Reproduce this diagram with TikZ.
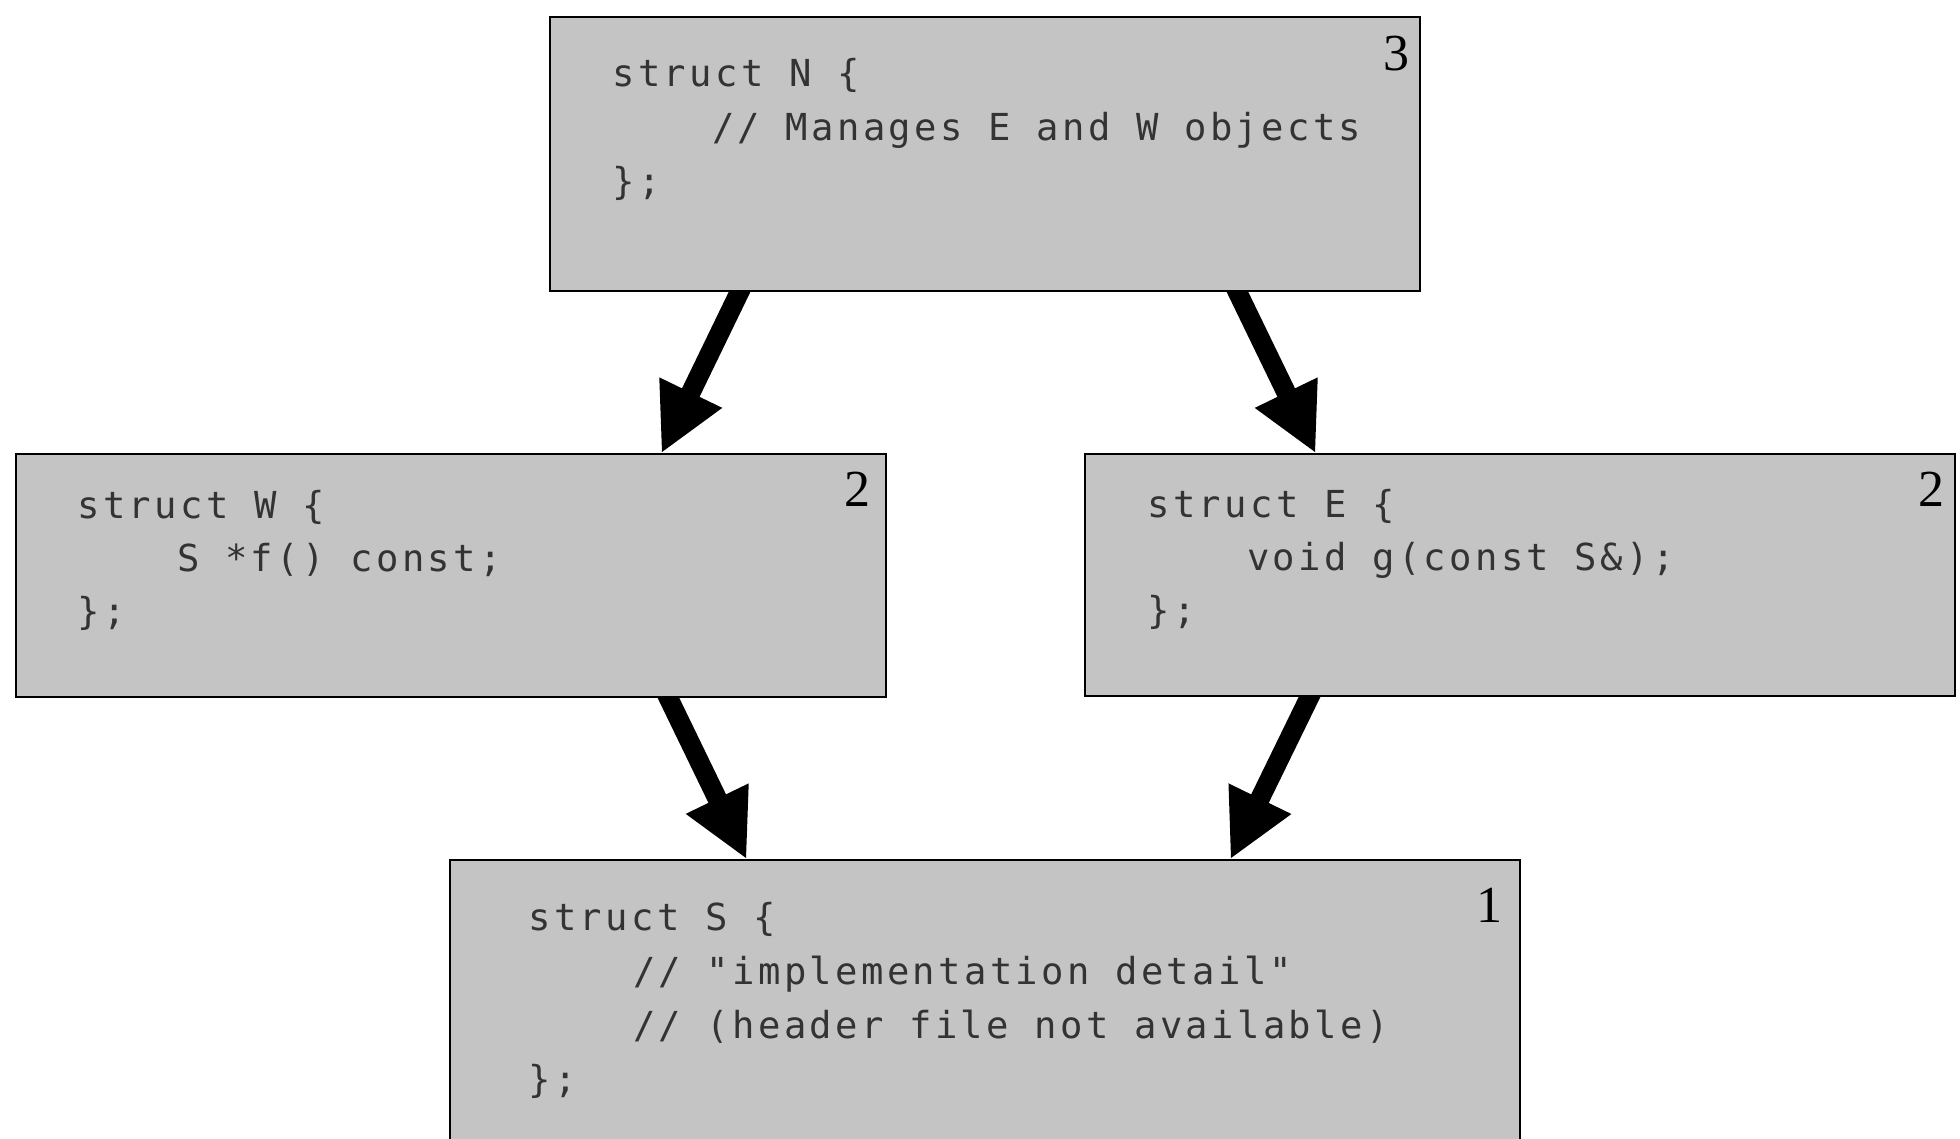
\documentclass[tikz,border=0pt]{standalone}
\usepackage{fontspec}
\newfontfamily\codefont[LetterSpace=9]{DejaVu Sans Mono}
\newfontfamily\numfont{Liberation Serif}
\usetikzlibrary{calc}
\definecolor{boxgray}{RGB}{196,196,196}
\begin{document}
\begin{tikzpicture}[x=0.5pt,y=-0.5pt,
  box/.style={draw=black, line width=1.2pt, fill=boxgray, anchor=north west, inner sep=0pt, outer sep=0pt},
  code/.style={font=\codefont\fontsize{18.6}{27}\selectfont, anchor=base west, inner sep=0pt, text=black!80},
  num/.style={font=\numfont\fontsize{26}{30}\selectfont, anchor=base east, inner sep=0pt},
  shaft/.style={line width=9.75pt, draw=black},
  head/.style={fill=black}]
\useasboundingbox (0,0) rectangle (1960,1139);
\clip (0,0) rectangle (1960,1139);
% boxes
\node[box, minimum width=435pt, minimum height=137pt] (N) at (550,17) {};
\node[box, minimum width=435pt, minimum height=121.5pt] (W) at (16,454) {};
\node[box, minimum width=435pt, minimum height=121pt] (E) at (1085,454) {};
\node[box, minimum width=535pt, minimum height=150pt] (S) at (450,860) {};
% N text
\node[code] (n1) at ([shift={(62,70)}]N.north west) {struct N \{};
\node[code] (n2) at ([shift={(62,124)}]N.north west) {\hphantom{xxxx}// Manages E and W objects};
\node[code] (n3) at ([shift={(62,178)}]N.north west) {\};};
\node[num] (n4) at ([shift={(-10,54)}]N.north east) {3};
% W text
\node[code] (w1) at ([shift={(61,64)}]W.north west) {struct W \{};
\node[code] (w2) at ([shift={(61,117)}]W.north west) {\hphantom{xxxx}S *f() const;};
\node[code] (w3) at ([shift={(61,170)}]W.north west) {\};};
\node[num] (w4) at ([shift={(-15,52)}]W.north east) {2};
% E text
\node[code] (e1) at ([shift={(62,63)}]E.north west) {struct E \{};
\node[code] (e2) at ([shift={(62,116)}]E.north west) {\hphantom{xxxx}void g(const S\&);};
\node[code] (e3) at ([shift={(62,169)}]E.north west) {\};};
\node[num] (e4) at ([shift={(-10,52)}]E.north east) {2};
% S text
\node[code] (s1) at ([shift={(78,70)}]S.north west) {struct S \{};
\node[code] (s2) at ([shift={(83,124)}]S.north west) {\hphantom{xxxx}// "implementation detail"};
\node[code] (s3) at ([shift={(83,178)}]S.north west) {\hphantom{xxxx}// (header file not available)};
\node[code] (s4) at ([shift={(78,232)}]S.north west) {\};};
\node[num] (s5) at ([shift={(-17,62)}]S.north east) {1};
% arrow end points
\coordinate (a1) at ([xshift=95pt]N.south west);
\coordinate (b1) at ([shift={(323pt,1pt)}]W.north west);
\coordinate (a2) at ([xshift=343.5pt]N.south west);
\coordinate (b2) at ([shift={(115pt,1pt)}]E.north west);
\coordinate (a3) at ([xshift=326pt]W.south west);
\coordinate (b3) at ([shift={(148pt,1pt)}]S.north west);
\coordinate (a4) at ([xshift=112.5pt]E.south west);
\coordinate (b4) at ([shift={(390.5pt,1pt)}]S.north west);
% arrows
\foreach \i/\src/\dst in {1/N/W, 2/N/E, 3/W/S, 4/E/S}{
  \coordinate (h\i) at ($(b\i)!33pt!(a\i)$);
  \begin{scope}
    \clip ([xshift=-200pt]\src.south west) rectangle ([xshift=200pt]\dst.north east);
    \draw[shaft] ($(a\i)!-8pt!(h\i)$) -- ($(h\i)!1pt!(b\i)$);
  \end{scope}
  \fill[head] (b\i) -- ($(h\i)!17.5pt!90:(b\i)$) -- ($(h\i)!17.5pt!-90:(b\i)$) -- cycle;
}
\end{tikzpicture}
\end{document}
